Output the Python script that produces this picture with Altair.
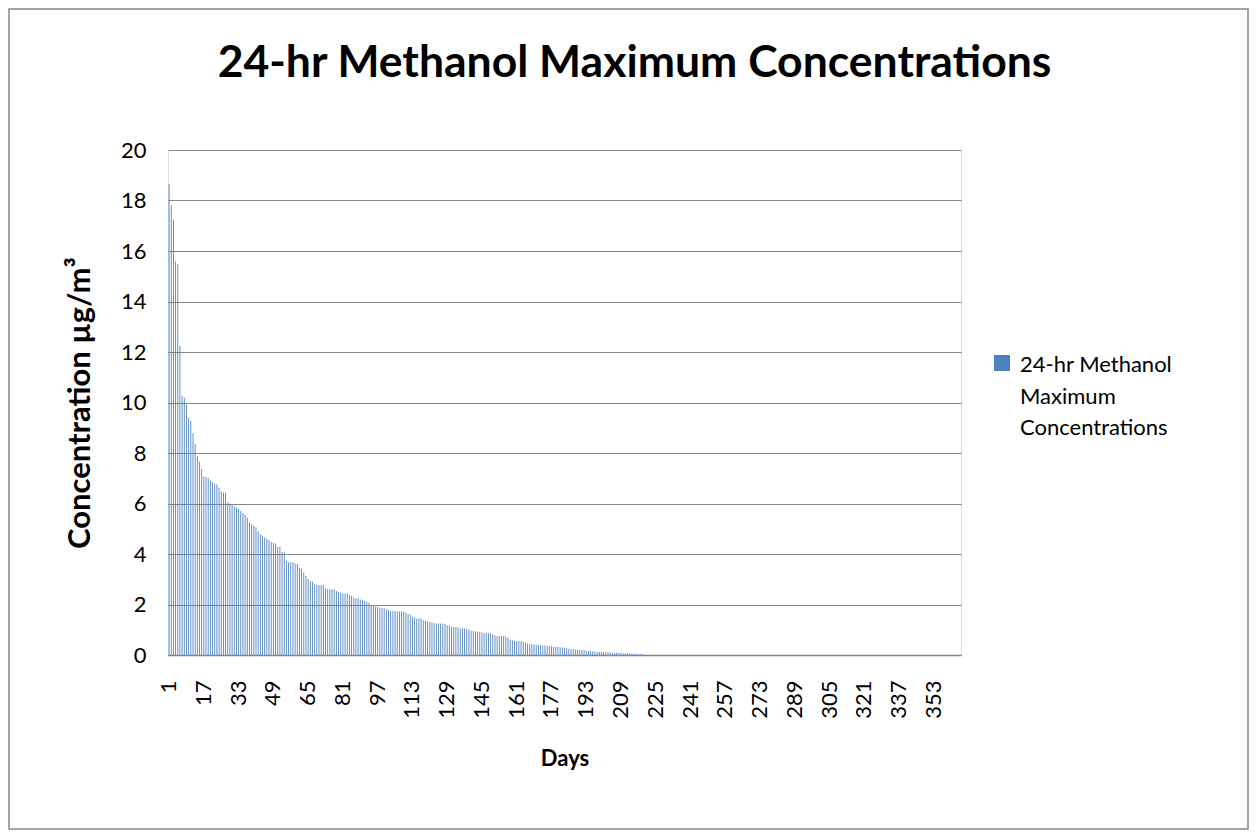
import altair as alt
import pandas as pd

# Daily 24-hr maximum concentrations (µg/m³), sorted descending, days 1..220 (rest zero)
top_values = [
    18.65, 17.8, 17.25, 15.58, 15.48, 12.24, 10.26, 10.19, 9.9, 9.4,
    9.27, 8.78, 8.36, 7.88, 7.66, 7.37, 7.06, 7.04, 7.02, 6.9,
    6.84, 6.78, 6.76, 6.62, 6.48, 6.45, 6.43, 6.05, 6.0, 5.94,
    5.9, 5.85, 5.78, 5.7, 5.62, 5.55, 5.45, 5.25, 5.18, 5.12,
    5.06, 4.9, 4.78, 4.72, 4.66, 4.6, 4.54, 4.49, 4.45, 4.42,
    4.29, 4.29, 4.07, 4.07, 3.72, 3.67, 3.67, 3.67, 3.62, 3.6,
    3.46, 3.42, 3.27, 3.13, 3.01, 2.93, 2.9, 2.82, 2.77, 2.77,
    2.77, 2.77, 2.64, 2.6, 2.6, 2.6, 2.6, 2.53, 2.5, 2.47,
    2.44, 2.44, 2.44, 2.38, 2.34, 2.28, 2.25, 2.25, 2.2, 2.18,
    2.15, 2.11, 2.07, 1.98, 1.94, 1.91, 1.91, 1.87, 1.85, 1.85,
    1.81, 1.78, 1.74, 1.74, 1.74, 1.73, 1.72, 1.72, 1.72, 1.68,
    1.62, 1.61, 1.52, 1.49, 1.45, 1.45, 1.45, 1.38, 1.36, 1.34,
    1.31, 1.3, 1.26, 1.25, 1.25, 1.25, 1.24, 1.23, 1.18, 1.17,
    1.12, 1.11, 1.11, 1.1, 1.06, 1.06, 1.05, 1.02, 1.02, 0.96,
    0.95, 0.93, 0.92, 0.92, 0.89, 0.88, 0.87, 0.86, 0.86, 0.82,
    0.77, 0.75, 0.75, 0.75, 0.75, 0.74, 0.68, 0.6, 0.58, 0.55,
    0.55, 0.55, 0.54, 0.52, 0.49, 0.45, 0.44, 0.43, 0.41, 0.41,
    0.41, 0.4, 0.38, 0.38, 0.36, 0.36, 0.35, 0.33, 0.32, 0.32,
    0.31, 0.3, 0.29, 0.27, 0.25, 0.24, 0.24, 0.22, 0.21, 0.2,
    0.2, 0.19, 0.17, 0.16, 0.16, 0.15, 0.13, 0.12, 0.12, 0.12,
    0.12, 0.11, 0.11, 0.1, 0.09, 0.09, 0.09, 0.08, 0.08, 0.07,
    0.07, 0.07, 0.06, 0.06, 0.05, 0.05, 0.04, 0.04, 0.03, 0.02,
]
zero_days = [0.0] * (365 - len(top_values))
concentrations = top_values + zero_days
days = list(range(1, 366))
x_tick_days = list(range(1, 366, 16))
y_ticks = list(range(0, 21, 2))
series_name = "24-hr Methanol Maximum Concentrations"
legend_lines = ["24-hr Methanol", "Maximum", "Concentrations"]

df = pd.DataFrame({"Day": days, "Concentration": concentrations, "Series": series_name})

FONT = "Lato"
GRID = "#868686"

bars = alt.Chart(df).mark_bar(color="#4F81BD").encode(
    x=alt.X(
        "Day:O",
        sort=None,
        scale=alt.Scale(paddingInner=0.6, paddingOuter=0.3),
        axis=alt.Axis(
            title="Days",
            values=x_tick_days,
            labelAngle=270,
            labelFontSize=22,
            labelFont=FONT,
            labelColor="black",
            labelPadding=25,
            ticks=False,
            domainColor=GRID,
            domainWidth=1.5,
            titleFont=FONT,
            titleFontSize=22,
            titleFontWeight="bold",
            titleColor="black",
            titlePadding=30,
        ),
    ),
    y=alt.Y(
        "Concentration:Q",
        scale=alt.Scale(domain=[0, 20], nice=False),
        axis=alt.Axis(
            title="Concentration µg/m³",
            values=y_ticks,
            labelFontSize=22,
            labelFont=FONT,
            labelColor="black",
            labelPadding=22,
            ticks=False,
            domain=False,
            grid=True,
            gridColor=GRID,
            gridWidth=1.2,
            titleFont=FONT,
            titleFontSize=31,
            titleFontWeight="bold",
            titleColor="black",
            titlePadding=24,
        ),
    ),
    color=alt.Color(
        "Series:N",
        scale=alt.Scale(range=["#4F81BD"]),
        legend=alt.Legend(
            title=legend_lines,
            titleOrient="right",
            titleFont=FONT,
            titleFontSize=22,
            titleFontWeight="normal",
            titleColor="black",
            titleLineHeight=31.5,
            titleBaseline="top",
            titleAnchor="start",
            titleLimit=400,
            titlePadding=0,
            orient="none",
            legendX=826,
            legendY=205,
            symbolType="square",
            symbolSize=256,
            symbolStrokeWidth=0,
            labelExpr="''",
            labelOffset=10,
            padding=0,
        ),
    ),
)

frame_df = pd.DataFrame({"f": [0]})
frame = alt.Chart(frame_df).mark_rect(
    filled=False, stroke=GRID, strokeWidth=1.5, clip=False
).encode(
    x=alt.value(-159), x2=alt.value(1080), y=alt.value(-141), y2=alt.value(679)
)

chart = alt.layer(bars, frame).properties(
    width=793,
    height=505,
    title=alt.TitleParams(
        text="24-hr Methanol Maximum Concentrations",
        font=FONT,
        fontSize=44.5,
        fontWeight="bold",
        color="black",
        anchor="middle",
        baseline="alphabetic",
        offset=0,
        dy=113,
        dx=70,
    ),
    padding={"left": 160, "top": 142, "right": 288, "bottom": 175},
    autosize=alt.AutoSizeParams(type="none"),
).configure_view(stroke=None).configure(background="white")

chart.save("out.html", embed_options={"renderer": "svg", "actions": False})
